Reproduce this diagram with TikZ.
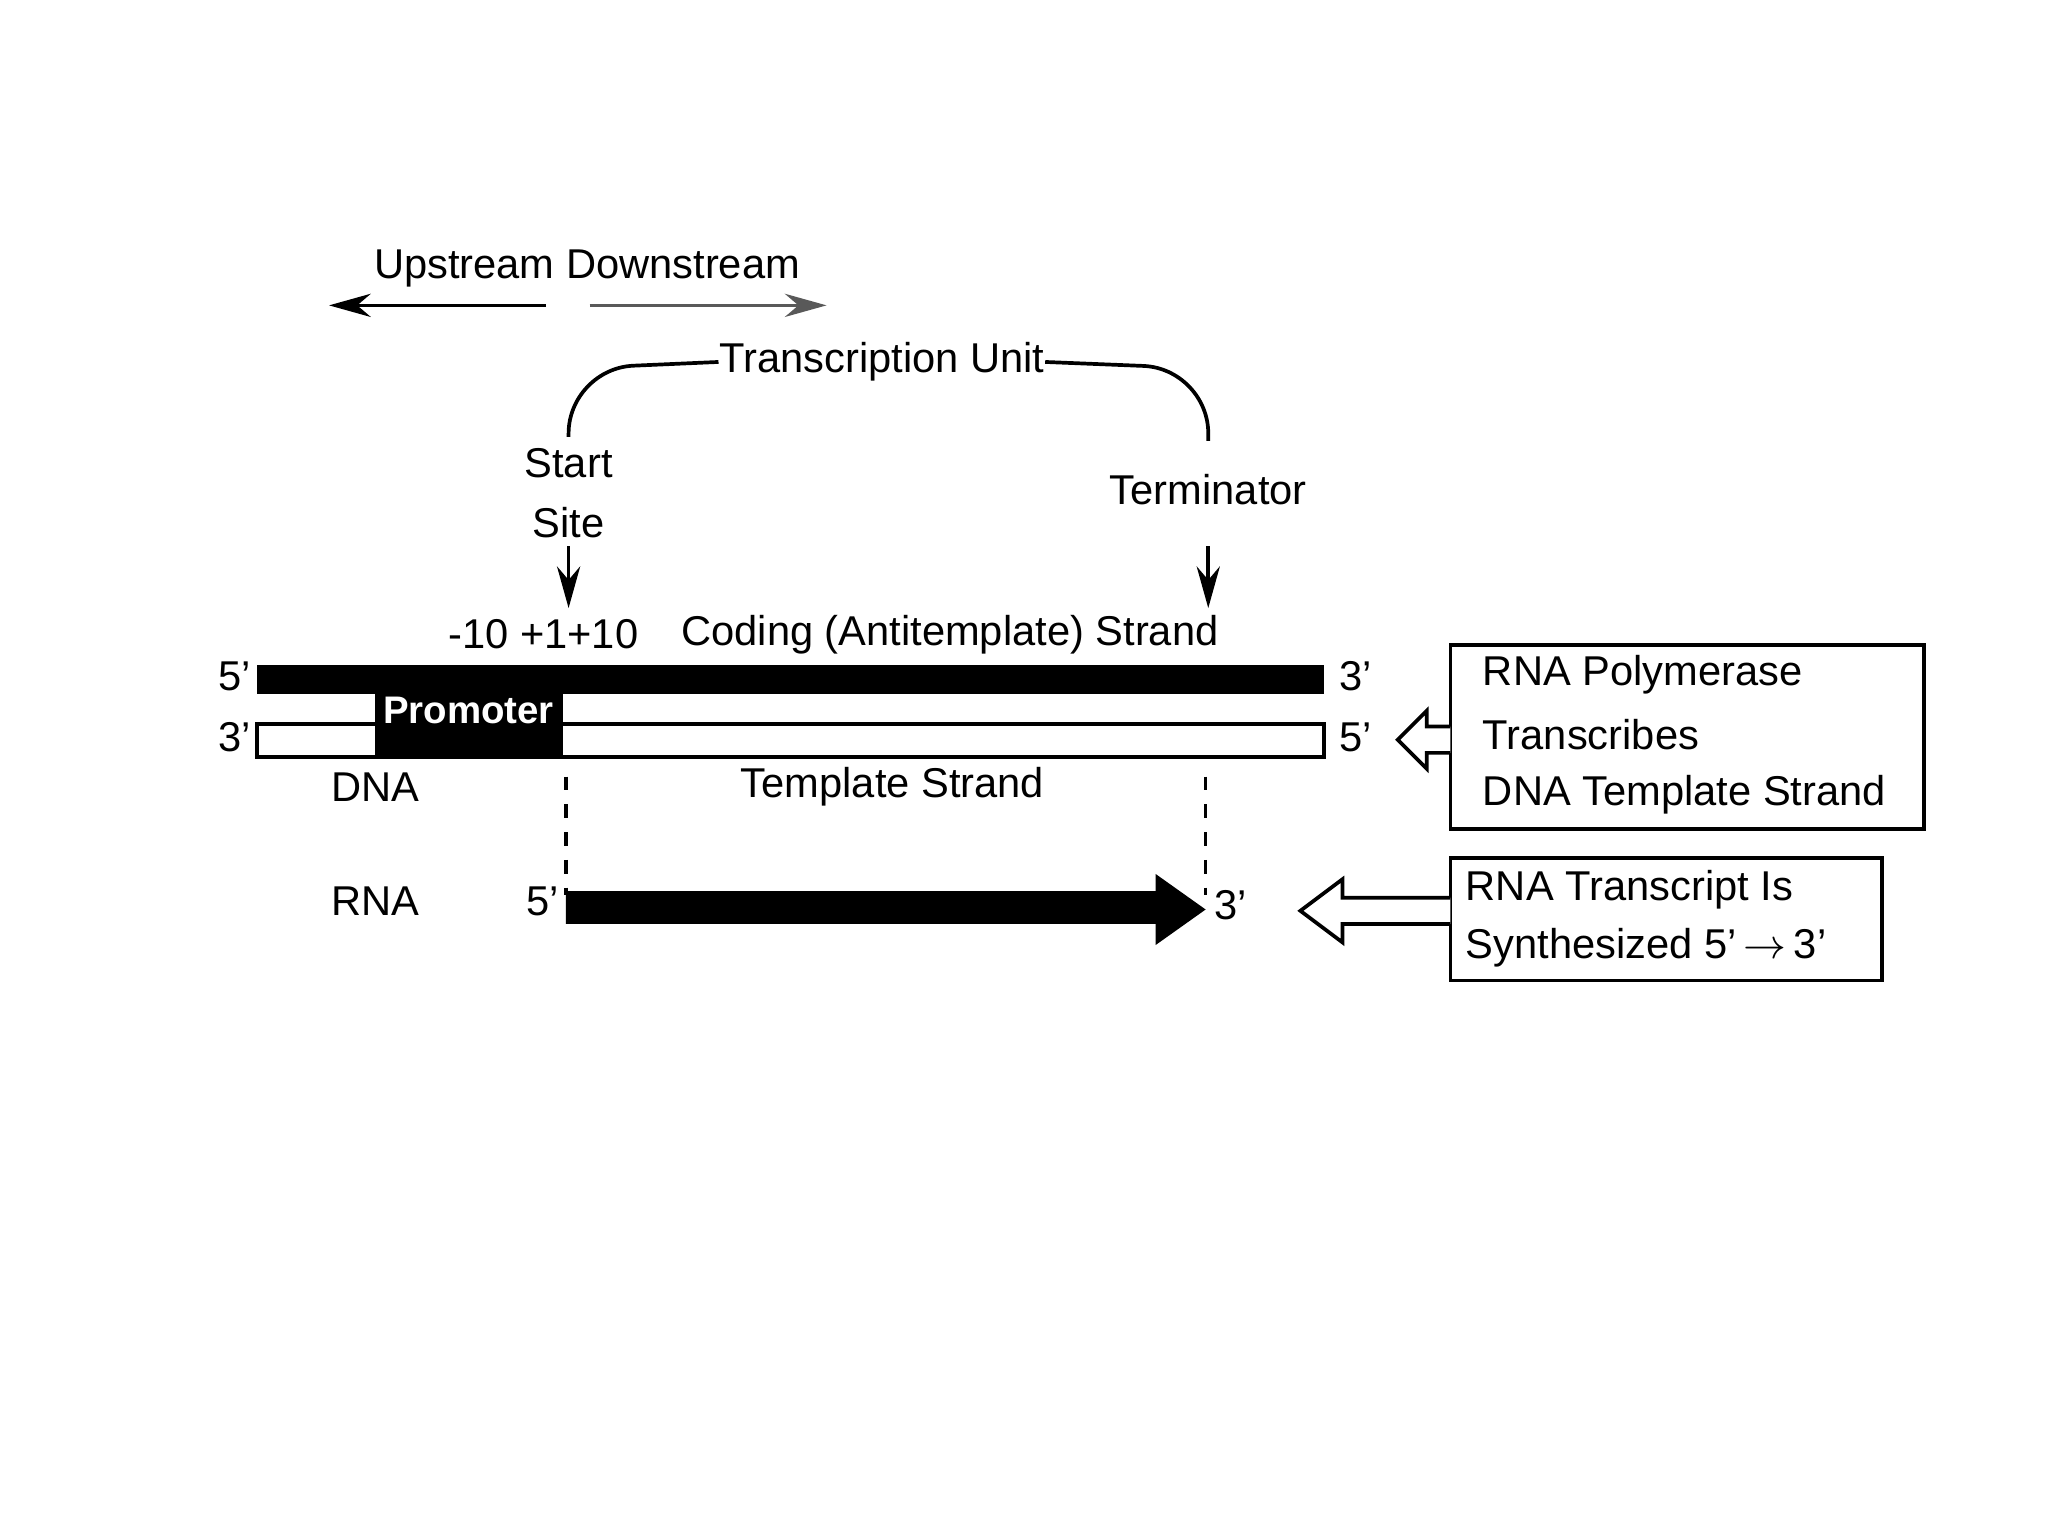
\documentclass[tikz,border=0pt]{standalone}
\usepackage{fontspec}
\setmainfont{Liberation Sans}
\usetikzlibrary{arrows.meta}
\begin{document}
\begin{tikzpicture}[x=0.01cm,y=-0.01cm,
  txt/.style={inner sep=0pt,font=\fontsize{9}{11}\selectfont},
  arr/.style={-{Stealth[length=9pt,width=5pt]},line width=0.8pt},
  thin/.style={line width=0.8pt}]
\useasboundingbox (0,0) rectangle (1556,1166);
% upstream/downstream
\node[txt] (ud) at (446,204) {Upstream Downstream};
\coordinate (ul1) at (415,232); \coordinate (ul2) at (250,232);
\coordinate (dr1) at (448,232); \coordinate (dr2) at (628,232);
\draw[arr] (ul1) -- (ul2);
\draw[arr,gray!70!black] (dr1) -- (dr2);
% transcription unit
\node[txt] (tu) at (670,275) {Transcription Unit};
\draw[thin,rounded corners=14pt] (tu.west) -- (432,280) -- (432,332);
\draw[thin,rounded corners=14pt] (tu.east) -- (918,280) -- (918,335);
\node[txt] (ss) at (432,352) {Start};
\node[txt] (ss2) at (432,397) {Site};
\node[txt] (term) at (918,372) {Terminator};
\coordinate (ssa) at (432,415); \coordinate (ssb) at (432,462);
\coordinate (ta) at (918,415); \coordinate (tb) at (918,462);
\draw[arr] (ssa) -- (ssb);
\draw[arr] (ta) -- (tb);
\node[txt,anchor=west] (m10) at (340,482) {-10 +1+10};
\node[txt,anchor=west] (cod) at (517,482) {Coding (Antitemplate) Strand};
% strands
\fill (195,505) rectangle (1006,527);
\draw[thin] (195,550) rectangle (1006,575);
\node[fill=black,minimum width=1.43cm,minimum height=0.48cm,inner sep=0pt] (prom) at (356.5,551) {};
\node[txt,text=white,font=\bfseries\fontsize{8.3}{10}\selectfont,anchor=north] at (356,529) {Promoter};
\node[txt] (a5) at (178,514) {5'};
\node[txt] (a3) at (1030,514) {3'};
\node[txt] (b3) at (178,560) {3'};
\node[txt] (b5) at (1030,560) {5'};
\node[txt] (dna) at (285,598) {DNA};
\node[txt] (tmp) at (678,598) {Template Strand};
\coordinate (d1a) at (430,590); \coordinate (d1b) at (430,680);
\coordinate (d2a) at (916,590); \coordinate (d2b) at (916,680);
\draw[thin,dashed] (d1a) -- (d1b);
\draw[thin,dashed] (d2a) -- (d2b);
% RNA
\node[txt] (rna) at (285,685) {RNA};
\node[txt] (r5) at (412,685) {5'};
\node[txt] (r3) at (935,688) {3'};
\fill (430,677) -- (878,677) -- (878,664) -- (916,691) -- (878,718) -- (878,702) -- (430,702) -- cycle;
% boxes
\draw[thin] (1102,490) rectangle (1462,630);
\node[txt,anchor=west] at (1126,513) {RNA Polymerase};
\node[txt,anchor=west] at (1126,558) {Transcribes};
\node[txt,anchor=west] at (1126,604) {DNA Template Strand};
\draw[thin,fill=white] (1102,552) -- (1084,552) -- (1084,540) -- (1062,562) -- (1084,584) -- (1084,572) -- (1102,572);
\draw[thin] (1102,652) rectangle (1430,745);
\node[txt,anchor=west] at (1113,676) {RNA Transcript Is};
\node[txt,anchor=west] at (1113,720) {Synthesized 5'$\,\rightarrow\,$3'};
\draw[thin,fill=white] (1102,682) -- (1020,682) -- (1020,668) -- (988,692) -- (1020,716) -- (1020,702) -- (1102,702);
\end{tikzpicture}
\end{document}
